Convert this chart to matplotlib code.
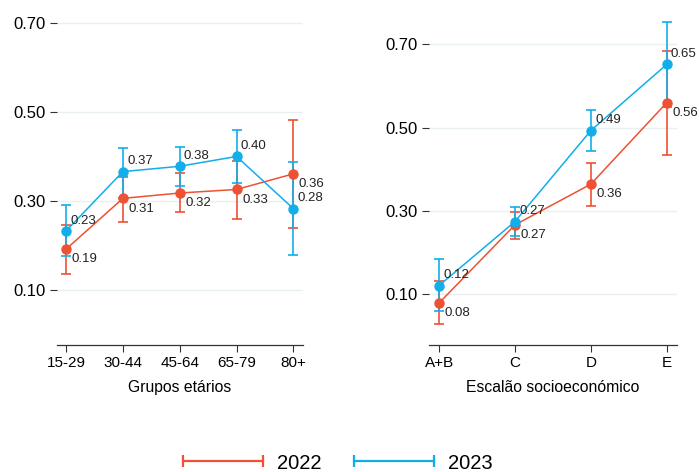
import matplotlib
matplotlib.use("Agg")
import matplotlib.pyplot as plt
from matplotlib.lines import Line2D

plt.rcParams['font.family'] = ['Liberation Sans', 'DejaVu Sans']

RED = '#EE5133'
BLUE = '#12AEEA'

years = ['2022', '2023']

age_groups = ['15-29', '30-44', '45-64', '65-79', '80+']
age_2022 = [0.192, 0.306, 0.318, 0.326, 0.361]
age_2022_lo = [0.137, 0.253, 0.275, 0.259, 0.240]
age_2022_hi = [0.247, 0.353, 0.363, 0.389, 0.482]
age_2023 = [0.233, 0.366, 0.378, 0.400, 0.283]
age_2023_lo = [0.176, 0.307, 0.333, 0.341, 0.178]
age_2023_hi = [0.291, 0.420, 0.422, 0.459, 0.388]

ses_groups = ['A+B', 'C', 'D', 'E']
ses_2022 = [0.078, 0.266, 0.364, 0.560]
ses_2022_lo = [0.027, 0.232, 0.311, 0.434]
ses_2022_hi = [0.131, 0.296, 0.416, 0.685]
ses_2023 = [0.120, 0.274, 0.493, 0.652]
ses_2023_lo = [0.058, 0.239, 0.444, 0.549]
ses_2023_hi = [0.183, 0.308, 0.542, 0.754]

yticks = [0.10, 0.30, 0.50, 0.70]


def panel(ax, cats, series, xlabel, ylim, xlim):
    x = list(range(len(cats)))
    for ax_y in yticks:
        ax.axhline(ax_y, color='#E8F0F2', lw=1.0, zorder=0)
    for (vals, lo, hi, col, up) in series:
        err = [[v - l for v, l in zip(vals, lo)], [h - v for v, h in zip(vals, hi)]]
        ax.errorbar(x, vals, yerr=err, fmt='none', ecolor=col, elinewidth=1.4,
                    capsize=3.5, capthick=1.4, alpha=0.85, zorder=2)
        ax.plot(x, vals, color=col, lw=1.1, marker='o', ms=6.5, zorder=3)
        for xi, v in zip(x, vals):
            if up:
                ax.annotate('%.2f' % v, (xi, v), xytext=(3, 3), textcoords='offset points',
                            ha='left', va='bottom', fontsize=9.5, color='#222222', zorder=4)
            else:
                ax.annotate('%.2f' % v, (xi, v), xytext=(4, -3), textcoords='offset points',
                            ha='left', va='top', fontsize=9.5, color='#222222', zorder=4)
    ax.set_xticks(x)
    ax.set_xticklabels(cats, fontsize=11)
    ax.set_yticks(yticks)
    ax.set_yticklabels(['%.2f' % t for t in yticks], fontsize=12)
    ax.set_ylim(*ylim)
    ax.set_xlim(*xlim)
    ax.set_xlabel(xlabel, fontsize=11.3, labelpad=7)
    for s in ['top', 'right', 'left']:
        ax.spines[s].set_visible(False)
    ax.spines['bottom'].set_color('#333333')
    ax.spines['bottom'].set_linewidth(0.9)
    ax.tick_params(axis='y', length=5, pad=3, color='#333333')
    ax.tick_params(axis='x', length=5, pad=3, color='#333333')


fig = plt.figure(figsize=(6.99, 4.72), dpi=100)
ax1 = fig.add_axes([0.0815, 0.269, 0.352, 0.7055])
ax2 = fig.add_axes([0.614, 0.269, 0.354, 0.7055])

panel(ax1, age_groups,
      [(age_2022, age_2022_lo, age_2022_hi, RED, False),
       (age_2023, age_2023_lo, age_2023_hi, BLUE, True)],
      'Grupos etários', (-0.023, 0.724), (-0.16, 4.17))
panel(ax2, ses_groups,
      [(ses_2022, ses_2022_lo, ses_2022_hi, RED, False),
       (ses_2023, ses_2023_lo, ses_2023_hi, BLUE, True)],
      'Escalão socioeconómico', (-0.023, 0.778), (-0.13, 3.13))

# legend handles: line with caps at both ends
handles = [Line2D([0], [0], color=c, lw=1.6, marker='|', ms=9, mew=1.6) for c in [RED, BLUE]]
fig.legend(handles, years, loc='center', bbox_to_anchor=(0.479, 0.019), ncol=2,
           frameon=False, fontsize=14.5, numpoints=2, handlelength=4.57,
           handletextpad=0.4, columnspacing=1.34)

fig.savefig('out.png', dpi=100)
